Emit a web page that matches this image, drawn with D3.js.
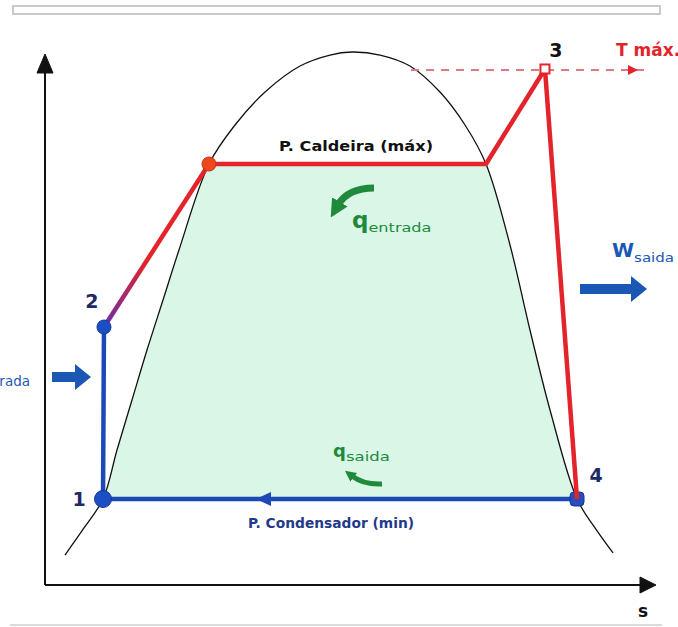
<!DOCTYPE html>
<html>
<head>
<meta charset="utf-8">
<script src="https://cdn.jsdelivr.net/npm/d3@7"></script>
<style>
  body { margin: 0; background: #fff; }
  text { font-family: "DejaVu Sans", Verdana, sans-serif; font-weight: bold; }
</style>
</head>
<body>
<div id="chart"></div>
<script>
var svgWidth = 678;
var svgHeight = 627;

// saturation dome, entropy s / temperature T (arbitrary units)
var domeS = [0.333, 0.650, 0.967, 1.20, 1.45, 1.70, 1.967, 2.233, 2.733, 3.167, 3.667, 4.25, 4.75, 5.117,
             5.583, 6.083, 6.583, 7.0, 7.35, 7.75, 8.083, 8.417, 8.867, 9.167, 9.467];
var domeT = [0.571, 1.086, 1.638, 2.571, 3.524, 4.476, 5.429, 6.381, 8.019, 8.762, 9.390, 9.886, 10.095, 10.152,
             10.095, 9.886, 9.390, 8.762, 8.019, 6.476, 4.857, 3.333, 1.638, 1.086, 0.610];

// cycle states: 1, 2, sat. liquid (a), sat. vapour (b), 3, 4
var stateNames = ["1", "2", "a", "b", "3", "4"];
var stateS = [0.967, 0.983, 2.733, 7.35, 8.333, 8.867];
var stateT = [1.638, 4.914, 8.019, 8.019, 9.829, 1.638];

// T max reference line
var tMaxS = [6.1, 10.1];

var x = d3.scaleLinear().domain([0, 10]).range([45, 645]);
var y = d3.scaleLinear().domain([0, 10]).range([585, 60]);

var red = "#e3242b", blue = "#1c48b8", green = "#1f8a3c";

var svg = d3.select("#chart")
  .append("svg")
  .attr("width", svgWidth)
  .attr("height", svgHeight);

var defs = svg.append("defs");

// frame bits of the screenshot
svg.append("rect")
  .attr("x", 13).attr("y", 6).attr("width", 647).attr("height", 8)
  .attr("fill", "#fff").attr("stroke", "#c9c9c9").attr("stroke-width", 2);
svg.append("line")
  .attr("x1", 10).attr("x2", 662).attr("y1", 625).attr("y2", 625)
  .attr("stroke", "#cfcfcf").attr("stroke-width", 1.5);

var dome = domeS.map(function(s, i) { return [s, domeT[i]]; });
var st = {};
stateNames.forEach(function(n, i) { st[n] = [x(stateS[i]), y(stateT[i])]; });

var domeLine = d3.line()
  .x(function(d) { return x(d[0]); })
  .y(function(d) { return y(d[1]); })
  .curve(d3.curveCatmullRom);

// green area inside the dome between the two pressures
defs.append("clipPath").attr("id", "band")
  .append("rect")
  .attr("x", 0).attr("width", svgWidth)
  .attr("y", st.a[1]).attr("height", st["1"][1] - st.a[1]);

svg.append("path")
  .attr("d", domeLine(dome) + "Z")
  .attr("fill", "#d9f6e6")
  .attr("clip-path", "url(#band)");

svg.append("path")
  .attr("d", domeLine(dome))
  .attr("fill", "none")
  .attr("stroke", "#111")
  .attr("stroke-width", 1.3);

// axes
var axisG = svg.append("g").attr("stroke", "#111").attr("fill", "#111");
axisG.append("line")
  .attr("x1", x(0)).attr("x2", x(0))
  .attr("y1", y(0)).attr("y2", y.range()[1] + 8)
  .attr("stroke-width", 2);
axisG.append("path")
  .attr("d", "M" + x(0) + "," + (y.range()[1] - 6) + "l-8,19h16z");
axisG.append("line")
  .attr("x1", x(0)).attr("x2", 645)
  .attr("y1", y(0)).attr("y2", y(0))
  .attr("stroke-width", 2);
axisG.append("path")
  .attr("d", "M656," + y(0) + "l-16,-8v16z");
svg.append("text")
  .attr("x", 643).attr("y", 617)
  .attr("font-size", 17).attr("fill", "#111")
  .attr("text-anchor", "middle")
  .text("s");

// T max dashed line
svg.append("line")
  .attr("x1", x(tMaxS[0])).attr("x2", x(tMaxS[1]))
  .attr("y1", st["3"][1] + 1).attr("y2", st["3"][1] + 1)
  .attr("stroke", "#e07a80").attr("stroke-width", 2)
  .attr("stroke-dasharray", "8,7");
svg.append("path")
  .attr("d", "M638," + (st["3"][1] + 1) + "l-10,-5v10z")
  .attr("fill", red);

// blue legs: pump 1-2 and condenser 4-1
svg.append("path")
  .attr("d", "M" + st["4"] + "L" + st["1"] + "L" + st["2"])
  .attr("fill", "none")
  .attr("stroke", blue).attr("stroke-width", 4.5)
  .attr("stroke-linejoin", "miter");
svg.append("path")
  .attr("d", "M256," + st["1"][1] + "l15,-7v14z")
  .attr("fill", blue);

// red legs: heating 2-a-b-3 and turbine 3-4
var grad = defs.append("linearGradient").attr("id", "heat")
  .attr("gradientUnits", "userSpaceOnUse")
  .attr("x1", st["2"][0]).attr("y1", st["2"][1])
  .attr("x2", st.a[0]).attr("y2", st.a[1]);
grad.append("stop").attr("offset", "0").attr("stop-color", "#6b2fa6");
grad.append("stop").attr("offset", "0.4").attr("stop-color", red);
grad.append("stop").attr("offset", "1").attr("stop-color", red);

svg.append("line")
  .attr("x1", st["2"][0]).attr("y1", st["2"][1])
  .attr("x2", st.a[0]).attr("y2", st.a[1])
  .attr("stroke", "url(#heat)").attr("stroke-width", 4.5);

// state dots
svg.append("circle").attr("cx", st["1"][0]).attr("cy", st["1"][1]).attr("r", 8.5)
  .attr("fill", "#1d4fc4").attr("stroke", "#15399a").attr("stroke-width", 1);
svg.append("circle").attr("cx", st["2"][0]).attr("cy", st["2"][1]).attr("r", 7)
  .attr("fill", "#1d4fc4").attr("stroke", "#15399a").attr("stroke-width", 1);
svg.append("rect")
  .attr("x", st["4"][0] - 7).attr("y", st["4"][1] - 7).attr("width", 14).attr("height", 14).attr("rx", 4)
  .attr("fill", "#2a4cb8").attr("stroke", "#15399a");

svg.append("path")
  .attr("d", "M" + st.a + "L" + st.b + "L" + st["3"] + "L" + st["4"])
  .attr("fill", "none")
  .attr("stroke", red).attr("stroke-width", 4.5)
  .attr("stroke-linejoin", "round");

svg.append("circle").attr("cx", st.a[0]).attr("cy", st.a[1]).attr("r", 7)
  .attr("fill", "#f0461e").attr("stroke", "#c23514").attr("stroke-width", 1);
svg.append("rect")
  .attr("x", st["3"][0] - 4.5).attr("y", st["3"][1] - 4.5).attr("width", 9).attr("height", 9)
  .attr("fill", "#fff").attr("stroke", red).attr("stroke-width", 2);

// state labels
var lbl = svg.append("g").attr("font-size", 19).attr("text-anchor", "middle");
lbl.append("text").attr("x", st["1"][0] - 24).attr("y", st["1"][1] + 7).attr("fill", "#1c2a66").text("1");
lbl.append("text").attr("x", st["2"][0] - 12).attr("y", st["2"][1] - 19).attr("fill", "#1c2a66").text("2");
lbl.append("text").attr("x", st["3"][0] + 11).attr("y", st["3"][1] - 12).attr("fill", "#111").text("3");
lbl.append("text").attr("x", st["4"][0] + 19).attr("y", st["4"][1] - 17).attr("fill", "#1c2a66").text("4");

svg.append("text")
  .attr("x", 616).attr("y", 56)
  .attr("font-family", "'Liberation Sans', Arial, sans-serif")
  .attr("font-size", 17).attr("fill", red)
  .text("T máx.");

// pressure labels
svg.append("text")
  .attr("x", 279).attr("y", st.a[1] - 13)
  .attr("font-size", 14).attr("fill", "#111")
  .attr("textLength", 154).attr("lengthAdjust", "spacingAndGlyphs")
  .text("P. Caldeira (máx)");
svg.append("text")
  .attr("x", 248).attr("y", st["1"][1] + 29)
  .attr("font-size", 14).attr("fill", "#1f3a8a")
  .attr("textLength", 166).attr("lengthAdjust", "spacingAndGlyphs")
  .text("P. Condensador (min)");

// heat arrows
defs.append("marker").attr("id", "gHead")
  .attr("markerUnits", "userSpaceOnUse")
  .attr("viewBox", "0 0 10 10").attr("refX", 2).attr("refY", 5)
  .attr("markerWidth", 18).attr("markerHeight", 20)
  .attr("orient", "auto")
  .append("path").attr("d", "M0,0L10,5L0,10z").attr("fill", green);
defs.append("marker").attr("id", "gHeadS")
  .attr("markerUnits", "userSpaceOnUse")
  .attr("viewBox", "0 0 10 10").attr("refX", 2).attr("refY", 5)
  .attr("markerWidth", 11).attr("markerHeight", 12)
  .attr("orient", "auto")
  .append("path").attr("d", "M0,0L10,5L0,10z").attr("fill", green);

svg.append("path")
  .attr("d", "M374,188Q348,188 338,205")
  .attr("fill", "none").attr("stroke", green).attr("stroke-width", 7)
  .attr("marker-end", "url(#gHead)");
svg.append("path")
  .attr("d", "M382,484Q364,485 352,476")
  .attr("fill", "none").attr("stroke", green).attr("stroke-width", 5)
  .attr("marker-end", "url(#gHeadS)");

var qIn = svg.append("text").attr("x", 352).attr("y", 228).attr("fill", green);
qIn.append("tspan").attr("font-size", 23).text("q");
qIn.append("tspan").attr("font-size", 13).attr("dy", 4).attr("font-weight", "normal")
  .attr("textLength", 63).attr("lengthAdjust", "spacingAndGlyphs").text("entrada");

var qOut = svg.append("text").attr("x", 333).attr("y", 457).attr("fill", green);
qOut.append("tspan").attr("font-size", 18).text("q");
qOut.append("tspan").attr("font-size", 12).attr("dy", 4).attr("font-weight", "normal")
  .attr("textLength", 44).attr("lengthAdjust", "spacingAndGlyphs").text("saida");

// work arrows
function blockArrow(x0, x1, yc) {
  return "M" + x0 + "," + (yc - 5) + "H" + (x1 - 16) + "V" + (yc - 13) +
    "L" + x1 + "," + yc + "L" + (x1 - 16) + "," + (yc + 13) + "V" + (yc + 5) + "H" + x0 + "Z";
}
svg.append("path").attr("d", blockArrow(580, 647, 289)).attr("fill", "#1b58b5");
svg.append("path").attr("d", blockArrow(52, 91, 377)).attr("fill", "#1b58b5");

var wOut = svg.append("text").attr("x", 612).attr("y", 257).attr("fill", "#1b58b5");
wOut.append("tspan").attr("font-size", 20).text("W");
wOut.append("tspan").attr("font-size", 12).attr("dy", 5).attr("font-weight", "normal")
  .attr("textLength", 40).attr("lengthAdjust", "spacingAndGlyphs").text("saida");

// left label is cut by the picture edge in the original, only "rada" shows
var wIn = svg.append("text").attr("x", 30).attr("y", 386).attr("fill", "#1b58b5")
  .attr("text-anchor", "end");
wIn.append("tspan").attr("font-size", 20).attr("dy", -5).text("W");
wIn.append("tspan").attr("font-size", 13.5).attr("dy", 5).attr("font-weight", "normal").text("entrada");
</script>
</body>
</html>
